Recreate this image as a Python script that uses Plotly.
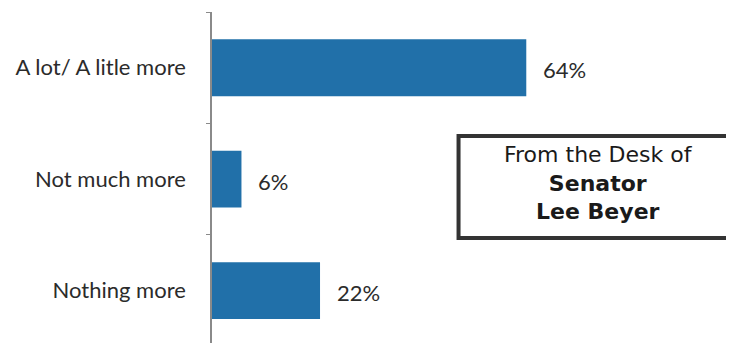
import plotly.graph_objects as go

categories = ["A lot/ A litle more", "Not much more", "Nothing more"]
values = [64, 6, 22]
value_labels = ["64%", "6%", "22%"]

stamp_text = "From the Desk of<br><b>Senator</b><br><b>Lee Beyer</b>"

BAR = "#2170a9"
TXT = "#2b2b2b"

fig = go.Figure()
fig.add_trace(go.Bar(
    x=values, y=categories, orientation="h",
    marker=dict(color=BAR, line=dict(width=0)),
    width=0.51,
    hoverinfo="skip",
))

for cat, v, lab in zip(categories, values, value_labels):
    fig.add_annotation(
        x=v, y=cat, xref="x", yref="y", text=lab, showarrow=False,
        xanchor="left", yanchor="middle", xshift=15, yshift=-2,
        font=dict(family="Lato", size=22, color=TXT),
    )

# stamp box (paper coordinates)
fig.add_shape(type="rect", xref="paper", yref="paper",
              x0=0.4723, x1=1.005, y0=0.3172, y1=0.6254,
              line=dict(color="#333333", width=4), fillcolor="white")

fig.add_annotation(
    x=0.74, y=0.4823, xref="paper", yref="paper", text=stamp_text,
    showarrow=False, xanchor="center", yanchor="middle", align="center",
    font=dict(family="DejaVu Sans", size=22, color="#1a1a1a"),
)

fig.update_layout(
    width=726, height=335,
    margin=dict(l=204, r=0, t=4, b=0),
    paper_bgcolor="white", plot_bgcolor="white",
    showlegend=False,
    xaxis=dict(range=[0, 106.3], visible=False, fixedrange=True),
    yaxis=dict(
        type="category",
        range=[2.47, -0.5],
        showline=True, linecolor="#8a8a8a", linewidth=1.5,
        ticks="outside", tickson="boundaries", ticklen=4, tickcolor="#8a8a8a",
        tickwidth=1,
        showgrid=False, zeroline=False,
        tickfont=dict(family="Lato", size=22, color=TXT),
        ticklabelstandoff=20,
    ),
)

fig.write_html("out.html")
